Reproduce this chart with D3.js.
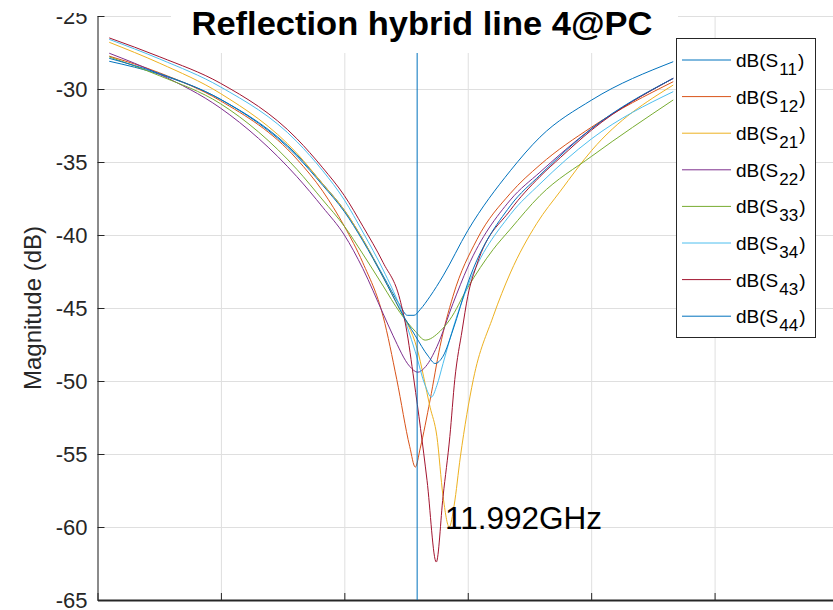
<!DOCTYPE html>
<html lang="en">
<head>
  <meta charset="UTF-8" />
  <title>Reflection hybrid line 4@PC</title>
  <script src="https://d3js.org/d3.v7.min.js"></script>
  <style>
    body { margin: 0; background: #fff; }
    svg { display: block; font-family: "Liberation Sans", Arial, sans-serif; }
    .grid line { stroke: #dfdfdf; stroke-width: 1; }
    .grid path { display: none; }
    .axis text { fill: #262626; font-size: 22px; }
    .axis line, .axis path { stroke: #262626; }
  </style>
</head>
<body>
<svg id="chart" width="833" height="610"></svg>
<script>
// == DATA ==  [frequency GHz, magnitude dB]
const s11 = [[11.9419,-28.1],[11.9501,-29.0],[11.9599,-30.7],[11.9723,-34.5],[11.9765,-36.5],[11.9800,-38.3],[11.9830,-40.3],[11.9863,-42.8],[11.9890,-44.8],[11.9902,-45.5],[11.9913,-45.5],[11.9923,-45.1],[11.9939,-44.2],[11.9960,-42.8],[12.0000,-39.7],[12.0069,-35.6],[12.0117,-33.3],[12.0201,-30.75],[12.0333,-28.13]];
const s12 = [[11.9419,-27.75],[11.9501,-28.9],[11.9599,-30.8],[11.9723,-34.8],[11.9765,-37.0],[11.9800,-39.4],[11.9830,-41.9],[11.9863,-45.6],[11.9885,-49.9],[11.9906,-54.5],[11.9915,-55.9],[11.9923,-54.6],[11.9939,-51.3],[11.9955,-47.65],[11.9976,-44.2],[12.0015,-40.3],[12.0069,-37.15],[12.0117,-35.2],[12.0201,-32.6],[12.0333,-29.5]];
const s21 = [[11.9419,-26.8],[11.9501,-28.24],[11.9599,-30.3],[11.9723,-34.4],[11.9765,-36.5],[11.9800,-38.3],[11.9830,-40.3],[11.9863,-42.9],[11.9890,-45.1],[11.9918,-47.8],[11.9939,-51.8],[11.9950,-53.8],[11.9960,-57.9],[11.9970,-60.0],[11.9978,-58.5],[11.9988,-55.2],[12.0009,-49.9],[12.0041,-45.6],[12.0069,-42.6],[12.0112,-39.2],[12.0150,-37.0],[12.0201,-34.2],[12.0333,-29.73]];
const s22 = [[11.9419,-27.55],[11.9501,-29.0],[11.9599,-31.3],[11.9723,-36.0],[11.9765,-38.1],[11.9800,-40.0],[11.9830,-42.3],[11.9863,-45.4],[11.9879,-46.9],[11.9906,-49.0],[11.9919,-49.4],[11.9932,-49.0],[11.9950,-47.65],[11.9976,-44.7],[12.0000,-42.2],[12.0069,-37.6],[12.0117,-35.7],[12.0201,-32.7],[12.0333,-29.27]];
const s33 = [[11.9419,-27.8],[11.9501,-29.1],[11.9599,-31.0],[11.9723,-35.5],[11.9765,-37.6],[11.9800,-39.4],[11.9830,-41.3],[11.9863,-43.5],[11.9890,-45.3],[11.9915,-46.6],[11.9931,-47.2],[11.9955,-46.6],[11.9971,-45.8],[12.0000,-43.6],[12.0041,-41.0],[12.0069,-39.6],[12.0117,-37.3],[12.0201,-34.6],[12.0333,-30.75]];
const s34 = [[11.9419,-26.6],[11.9501,-27.95],[11.9599,-29.85],[11.9723,-33.6],[11.9765,-35.6],[11.9800,-37.6],[11.9830,-39.8],[11.9863,-42.4],[11.9890,-44.9],[11.9915,-48.0],[11.9931,-50.3],[11.9941,-51.1],[11.9950,-50.3],[11.9960,-48.8],[11.9979,-46.0],[12.0000,-43.5],[12.0069,-38.6],[12.0117,-36.5],[12.0201,-33.4],[12.0333,-30.18]];
const s43 = [[11.9419,-26.5],[11.9501,-27.8],[11.9599,-29.6],[11.9723,-33.4],[11.9765,-35.4],[11.9800,-37.3],[11.9830,-39.4],[11.9863,-41.9],[11.9890,-44.4],[11.9900,-46.3],[11.9913,-50.0],[11.9934,-56.8],[11.9949,-62.4],[11.9960,-57.9],[11.9971,-53.8],[11.9979,-49.9],[11.9991,-46.5],[12.0000,-44.2],[12.0015,-42.0],[12.0069,-38.3],[12.0117,-36.0],[12.0150,-34.7],[12.0201,-32.8],[12.0333,-29.27]];
const s44 = [[11.9419,-27.9],[11.9501,-28.95],[11.9599,-30.7],[11.9723,-34.6],[11.9765,-36.6],[11.9800,-38.4],[11.9830,-40.4],[11.9863,-42.9],[11.9890,-45.1],[11.9915,-46.9],[11.9936,-48.3],[11.9947,-48.8],[11.9960,-48.3],[11.9976,-46.5],[12.0000,-43.3],[12.0069,-38.0],[12.0117,-35.9],[12.0201,-32.7],[12.0333,-29.27]];

const seriesNames = ["11", "12", "21", "22", "33", "34", "43", "44"];
const seriesData = [s11, s12, s21, s22, s33, s34, s43, s44];
const seriesColors = ["#0072BD", "#D95319", "#EDB120", "#7E2F8E", "#77AC30", "#4DBEEE", "#A2142F", "#0072BD"];

const yTicks = [-65, -60, -55, -50, -45, -40, -35, -30, -25];
const xTicks = [11.94, 11.96, 11.98, 12.00, 12.02, 12.04, 12.06];
const markerFreq = 11.9918;
const markerLabel = "11.992GHz";
const titleText = "Reflection hybrid line 4@PC";
const yLabelText = "Magnitude (dB)";

// == LAYOUT ==
const svg = d3.select("#chart");
const plotLeft = 97.5, plotTop = 16, plotBottom = 600, plotRight = 838;

const x = d3.scaleLinear().domain([11.94, 12.06]).range([plotLeft, plotRight]);
const y = d3.scaleLinear().domain([-65, -25]).range([plotBottom, plotTop]);

svg.append("defs").append("clipPath").attr("id", "plot-clip")
  .append("rect").attr("x", plotLeft).attr("y", plotTop)
  .attr("width", plotRight - plotLeft).attr("height", plotBottom - plotTop);

// grid
svg.append("g").attr("class", "grid")
  .attr("transform", `translate(0,${plotBottom})`)
  .call(d3.axisBottom(x).tickValues(xTicks).tickSize(-(plotBottom - plotTop)).tickFormat(""));
svg.append("g").attr("class", "grid")
  .attr("transform", `translate(${plotLeft},0)`)
  .call(d3.axisLeft(y).tickValues(yTicks).tickSize(-(plotRight - plotLeft)).tickFormat(""));

// curves
const line = d3.line()
  .x(d => x(d[0]))
  .y(d => y(d[1]))
  .curve(d3.curveMonotoneX);

const curves = svg.append("g").attr("clip-path", "url(#plot-clip)");
seriesData.forEach((data, i) => {
  curves.append("path")
    .attr("d", line(data))
    .attr("fill", "none")
    .attr("stroke", seriesColors[i])
    .attr("stroke-width", 1);
});

// axes (ticks point inward)
const yAxis = svg.append("g").attr("class", "axis")
  .attr("transform", `translate(${plotLeft},0)`)
  .call(d3.axisLeft(y).tickValues(yTicks).tickSizeInner(-7).tickSizeOuter(0).tickPadding(10).tickFormat(d => String(d)));
yAxis.select(".domain").attr("stroke-width", 1);

const xAxis = svg.append("g").attr("class", "axis")
  .attr("transform", `translate(0,${plotBottom})`)
  .call(d3.axisBottom(x).tickValues(xTicks).tickSizeInner(-7).tickSizeOuter(0).tickFormat(""));
xAxis.select(".domain").attr("stroke", "#555").attr("stroke-width", 2);

// white covers like the original figure
svg.append("rect").attr("x", 0).attr("y", 0).attr("width", 96).attr("height", 13).attr("fill", "#fff");
svg.append("rect").attr("x", 171).attr("y", 0).attr("width", 507).attr("height", 53).attr("fill", "#fff");

// marker
svg.append("line")
  .attr("x1", x(markerFreq)).attr("x2", x(markerFreq))
  .attr("y1", 53).attr("y2", plotBottom)
  .attr("stroke", "#0072BD").attr("stroke-width", 1);

svg.append("text")
  .attr("x", 445).attr("y", 529)
  .attr("font-size", 31.5).attr("fill", "#000")
  .text(markerLabel);

// title
svg.append("text")
  .attr("x", 422).attr("y", 35)
  .attr("text-anchor", "middle")
  .attr("font-size", 33).attr("font-weight", "bold").attr("fill", "#000")
  .attr("textLength", 461).attr("lengthAdjust", "spacingAndGlyphs")
  .text(titleText);

// y label
svg.append("text")
  .attr("transform", "translate(41,308) rotate(-90)")
  .attr("text-anchor", "middle")
  .attr("font-size", 24).attr("fill", "#262626")
  .text(yLabelText);

// == LEGEND ==
const legend = svg.append("g");
legend.append("rect")
  .attr("x", 676.5).attr("y", 38.5).attr("width", 139).attr("height", 299)
  .attr("fill", "#fff").attr("stroke", "#262626").attr("stroke-width", 1);

seriesNames.forEach((name, i) => {
  const ly = 60 + i * 36.6;
  legend.append("line")
    .attr("x1", 682).attr("x2", 731).attr("y1", ly).attr("y2", ly)
    .attr("stroke", seriesColors[i]).attr("stroke-width", 1);
  const t = legend.append("text")
    .attr("x", 736).attr("y", ly + 7)
    .attr("font-size", 19).attr("fill", "#000");
  t.append("tspan").text("dB(S");
  t.append("tspan").attr("dx", 1).attr("dy", 8).attr("font-size", 17).text(name);
  t.append("tspan").attr("dx", 1).attr("dy", -8).text(")");
});
</script>
</body>
</html>
